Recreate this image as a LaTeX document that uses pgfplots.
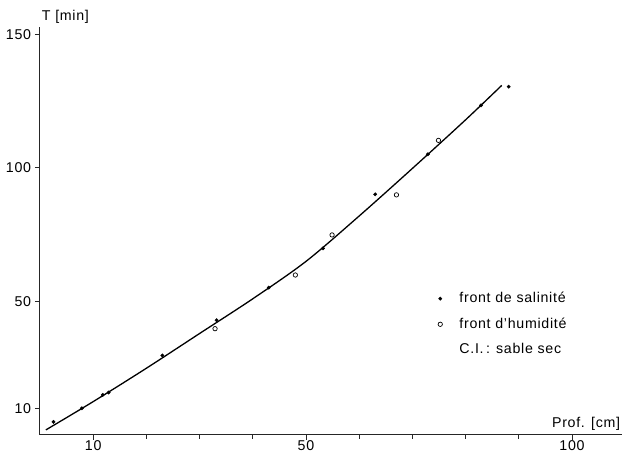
\documentclass[border=0pt]{standalone}
\usepackage{fontspec}
\setmainfont{Liberation Sans}[LetterSpace=5]
\usepackage{pgfplots}
\pgfplotsset{compat=1.18}
\begin{document}
\fontsize{14.2bp}{17bp}\selectfont
\begin{tikzpicture}
\begin{axis}[
  scale only axis, width=582bp, height=407.6bp,
  xmin=0, xmax=109.4, ymin=0, ymax=152.6,
  axis x line=bottom, axis y line=left,
  axis line style={-, line width=1bp, black!85},
  xtick={10,50,100}, minor xtick={20,30,40,60,70,80,90},
  ytick={10,50,100,150},
  tick align=outside,
  major tick length=5bp, minor tick length=4bp,
  tick style={line width=0.8bp, black!85},
  /pgf/number format/assume math mode=true,
  xticklabel style={yshift=4bp},
  yticklabel style={xshift=1bp},
  clip=false,
  legend style={at={(axis cs:73.6,54.2)}, anchor=north west, draw=none, fill=none,
    row sep=9bp, column sep=15bp, inner sep=0pt, font=\fontsize{14.2bp}{17bp}\selectfont},
  legend cell align=left,
]
\addplot[black, line width=1.3bp, smooth, forget plot] coordinates {
 (1.1,1.9) (10,12.5) (20,25) (30,38) (40,51) (50,65) (60,82) (70,99.8) (80,118) (86.8,130.9)
};
\addplot[only marks, mark=*, mark size=1.7bp, black] coordinates {
 (2.54,4.9) (7.86,10.0) (11.8,15.0) (12.9,15.9) (23.0,29.8) (33.2,43.0) (43.0,55.2)
 (53.2,69.9) (63.0,90.1) (72.9,105.1) (82.9,123.4) (88.1,130.4)
};
\addlegendentry{front de salinité}
\addplot[only marks, mark=o, mark size=2.2bp, black, mark options={line width=0.7bp}] coordinates {
 (32.9,39.8) (48.0,59.9) (54.9,74.9) (67.0,89.9) (74.9,110.3)
};
\addlegendentry{front d’humidité}
\addlegendimage{empty legend}
\addlegendentry{C.I.\,: sable sec}
\node[anchor=base west, xshift=-3bp, yshift=7bp] at (rel axis cs:0,1) {T [min]};
\node[anchor=base east, yshift=7bp, xshift=3bp] at (rel axis cs:1,0) {Prof. [cm]};
\end{axis}
\pgfresetboundingbox
\path (-40bp,-20bp) rectangle (587bp,435bp);
\end{tikzpicture}
\end{document}
